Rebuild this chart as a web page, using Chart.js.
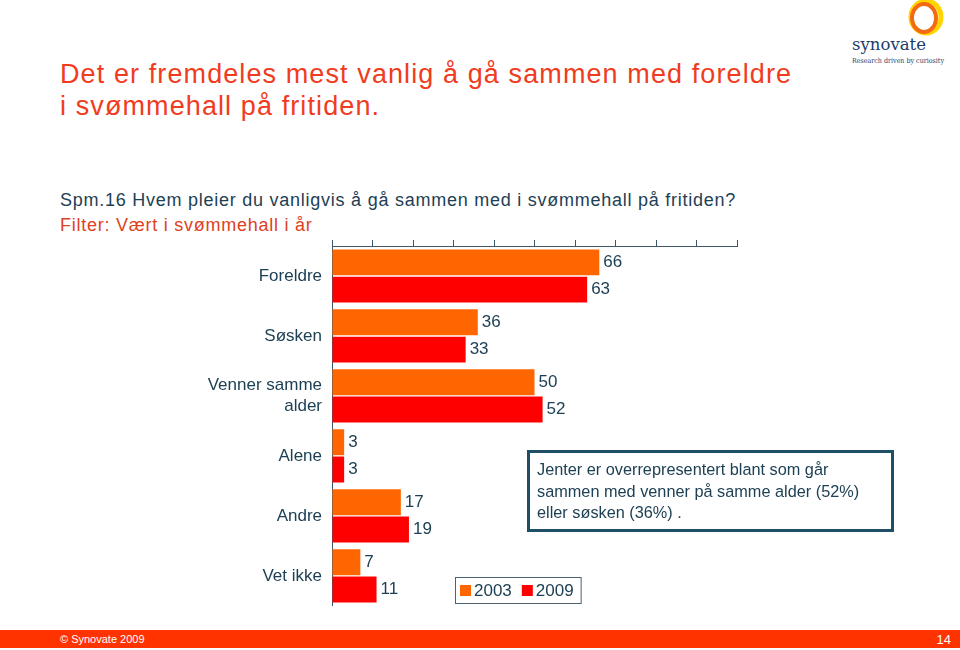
<!DOCTYPE html>
<html>
<head>
<meta charset="utf-8">
<script src="https://cdn.jsdelivr.net/npm/chart.js@4/dist/chart.umd.min.js"></script>
<style>
  html, body { margin: 0; padding: 0; background: #fff; }
  body { width: 960px; height: 650px; position: relative; overflow: hidden; font-family: Arial, "Liberation Sans", sans-serif; }
  .title { position: absolute; left: 60px; top: 58px; font-size: 27px; letter-spacing: 1.1px; line-height: 32px; color: #f03c1e; white-space: nowrap; }
  .question { position: absolute; left: 60px; top: 188px; font-size: 18px; letter-spacing: 0.75px; line-height: 25px; color: #1e4054; white-space: nowrap; }
  .filter { color: #e0401f; }
  #wrap { position: absolute; left: 0; top: 228px; width: 960px; height: 390px; }
  .note { position: absolute; left: 527px; top: 450px; width: 354px; height: 70px; border: 3px solid #1e4f66;
          padding: 6px 0 0 7px; font-size: 16.3px; line-height: 21.5px; color: #1e4054; white-space: nowrap; }
  .footer { position: absolute; left: 0; top: 630px; width: 960px; height: 18px; background: #ff3300; color: #fff; }
  .footer .copy { position: absolute; left: 60px; top: 3px; font-size: 11px; }
  .footer .page { position: absolute; right: 9px; top: 2px; font-size: 13px; }
  .logo { position: absolute; left: 840px; top: 0; }
</style>
</head>
<body>

<div class="title">Det er fremdeles mest vanlig å gå sammen med foreldre<br>i svømmehall på fritiden.</div>
<div class="question">Spm.16 Hvem pleier du vanligvis å gå sammen med i svømmehall på fritiden?<br><span class="filter">Filter: Vært i svømmehall i år</span></div>

<svg class="logo" width="120" height="70" viewBox="0 0 120 70">
  <ellipse cx="86" cy="17" rx="15" ry="16" fill="none" stroke="#ffd400" stroke-width="5"/>
  <ellipse cx="84" cy="18" rx="12" ry="14" fill="none" stroke="#f46a12" stroke-width="4"/>
  <text x="12" y="50" font-family="DejaVu Serif, serif" font-size="17" textLength="74" lengthAdjust="spacingAndGlyphs" fill="#1b3d6e">synovate</text>
  <text x="12" y="63" font-family="DejaVu Serif, serif" font-size="7" textLength="92" lengthAdjust="spacingAndGlyphs" fill="#1b3d6e">Research driven by curiosity</text>
</svg>

<div id="wrap"><canvas id="chart" width="960" height="390"></canvas></div>

<div class="note">Jenter er overrepresentert blant som går<br>sammen med venner på samme alder (52%)<br>eller søsken (36%) .</div>

<div class="footer"><span class="copy">© Synovate 2009</span><span class="page">14</span></div>

<script>
const categories = ["Foreldre", "Søsken", ["Venner samme", "alder"], "Alene", "Andre", "Vet ikke"];
const values2003 = [66, 36, 50, 3, 17, 7];
const values2009 = [63, 33, 52, 3, 19, 11];
const seriesLabels = ["2003", "2009"];

const textColor = "#1e4054";
const axisColor = "#3d5868";
const fontFamily = "Arial, 'Liberation Sans', sans-serif";

// value next to the end of each bar
const valueLabels = {
  id: "valueLabels",
  afterDatasetsDraw(chart) {
    const ctx = chart.ctx;
    ctx.save();
    ctx.font = "17px " + fontFamily;
    ctx.fillStyle = textColor;
    ctx.textAlign = "left";
    ctx.textBaseline = "middle";
    chart.data.datasets.forEach((ds, i) => {
      chart.getDatasetMeta(i).data.forEach((bar, j) => {
        ctx.fillText(String(ds.data[j]), bar.x + 4, bar.y);
      });
    });
    ctx.restore();
  }
};

// boxed legend in the lower part of the plot
const boxLegend = {
  id: "boxLegend",
  afterDraw(chart) {
    const ctx = chart.ctx;
    const left = 455, top = 349, h = 26;
    ctx.save();
    ctx.font = "17px " + fontFamily;
    ctx.textBaseline = "middle";
    let x = left + 5;
    chart.data.datasets.forEach(ds => {
      ctx.fillStyle = ds.backgroundColor;
      ctx.fillRect(x, top + 8, 11, 11);
      x += 14;
      ctx.fillStyle = textColor;
      ctx.fillText(ds.label, x, top + h / 2 + 1);
      x += ctx.measureText(ds.label).width + 10;
    });
    ctx.strokeStyle = "#4a6272";
    ctx.lineWidth = 1;
    ctx.strokeRect(left + 0.5, top + 0.5, x - left - 3, h);
    ctx.restore();
  }
};

new Chart(document.getElementById("chart"), {
  type: "bar",
  data: {
    labels: categories,
    datasets: [
      { label: seriesLabels[0], data: values2003, backgroundColor: "#ff6600" },
      { label: seriesLabels[1], data: values2009, backgroundColor: "#ff0000" }
    ]
  },
  options: {
    indexAxis: "y",
    responsive: false,
    animation: false,
    layout: { padding: { top: 11, bottom: 5, left: 0, right: 223 } },
    categoryPercentage: 0.91,
    barPercentage: 0.95,
    plugins: {
      legend: { display: false },
      tooltip: { enabled: false }
    },
    scales: {
      x: {
        position: "top",
        min: 0,
        max: 100,
        ticks: { display: false, stepSize: 10 },
        grid: { drawOnChartArea: false, drawTicks: true, tickLength: 6, color: axisColor },
        border: { display: true, color: axisColor },
        afterFit(scale) { scale.height = 7; }
      },
      y: {
        grid: { display: false },
        border: { display: true, color: axisColor },
        ticks: {
          color: textColor,
          padding: 2,
          font: { size: 17, family: fontFamily }
        },
        afterFit(scale) { scale.width = 332; }
      }
    }
  },
  plugins: [valueLabels, boxLegend]
});
</script>
</body>
</html>
